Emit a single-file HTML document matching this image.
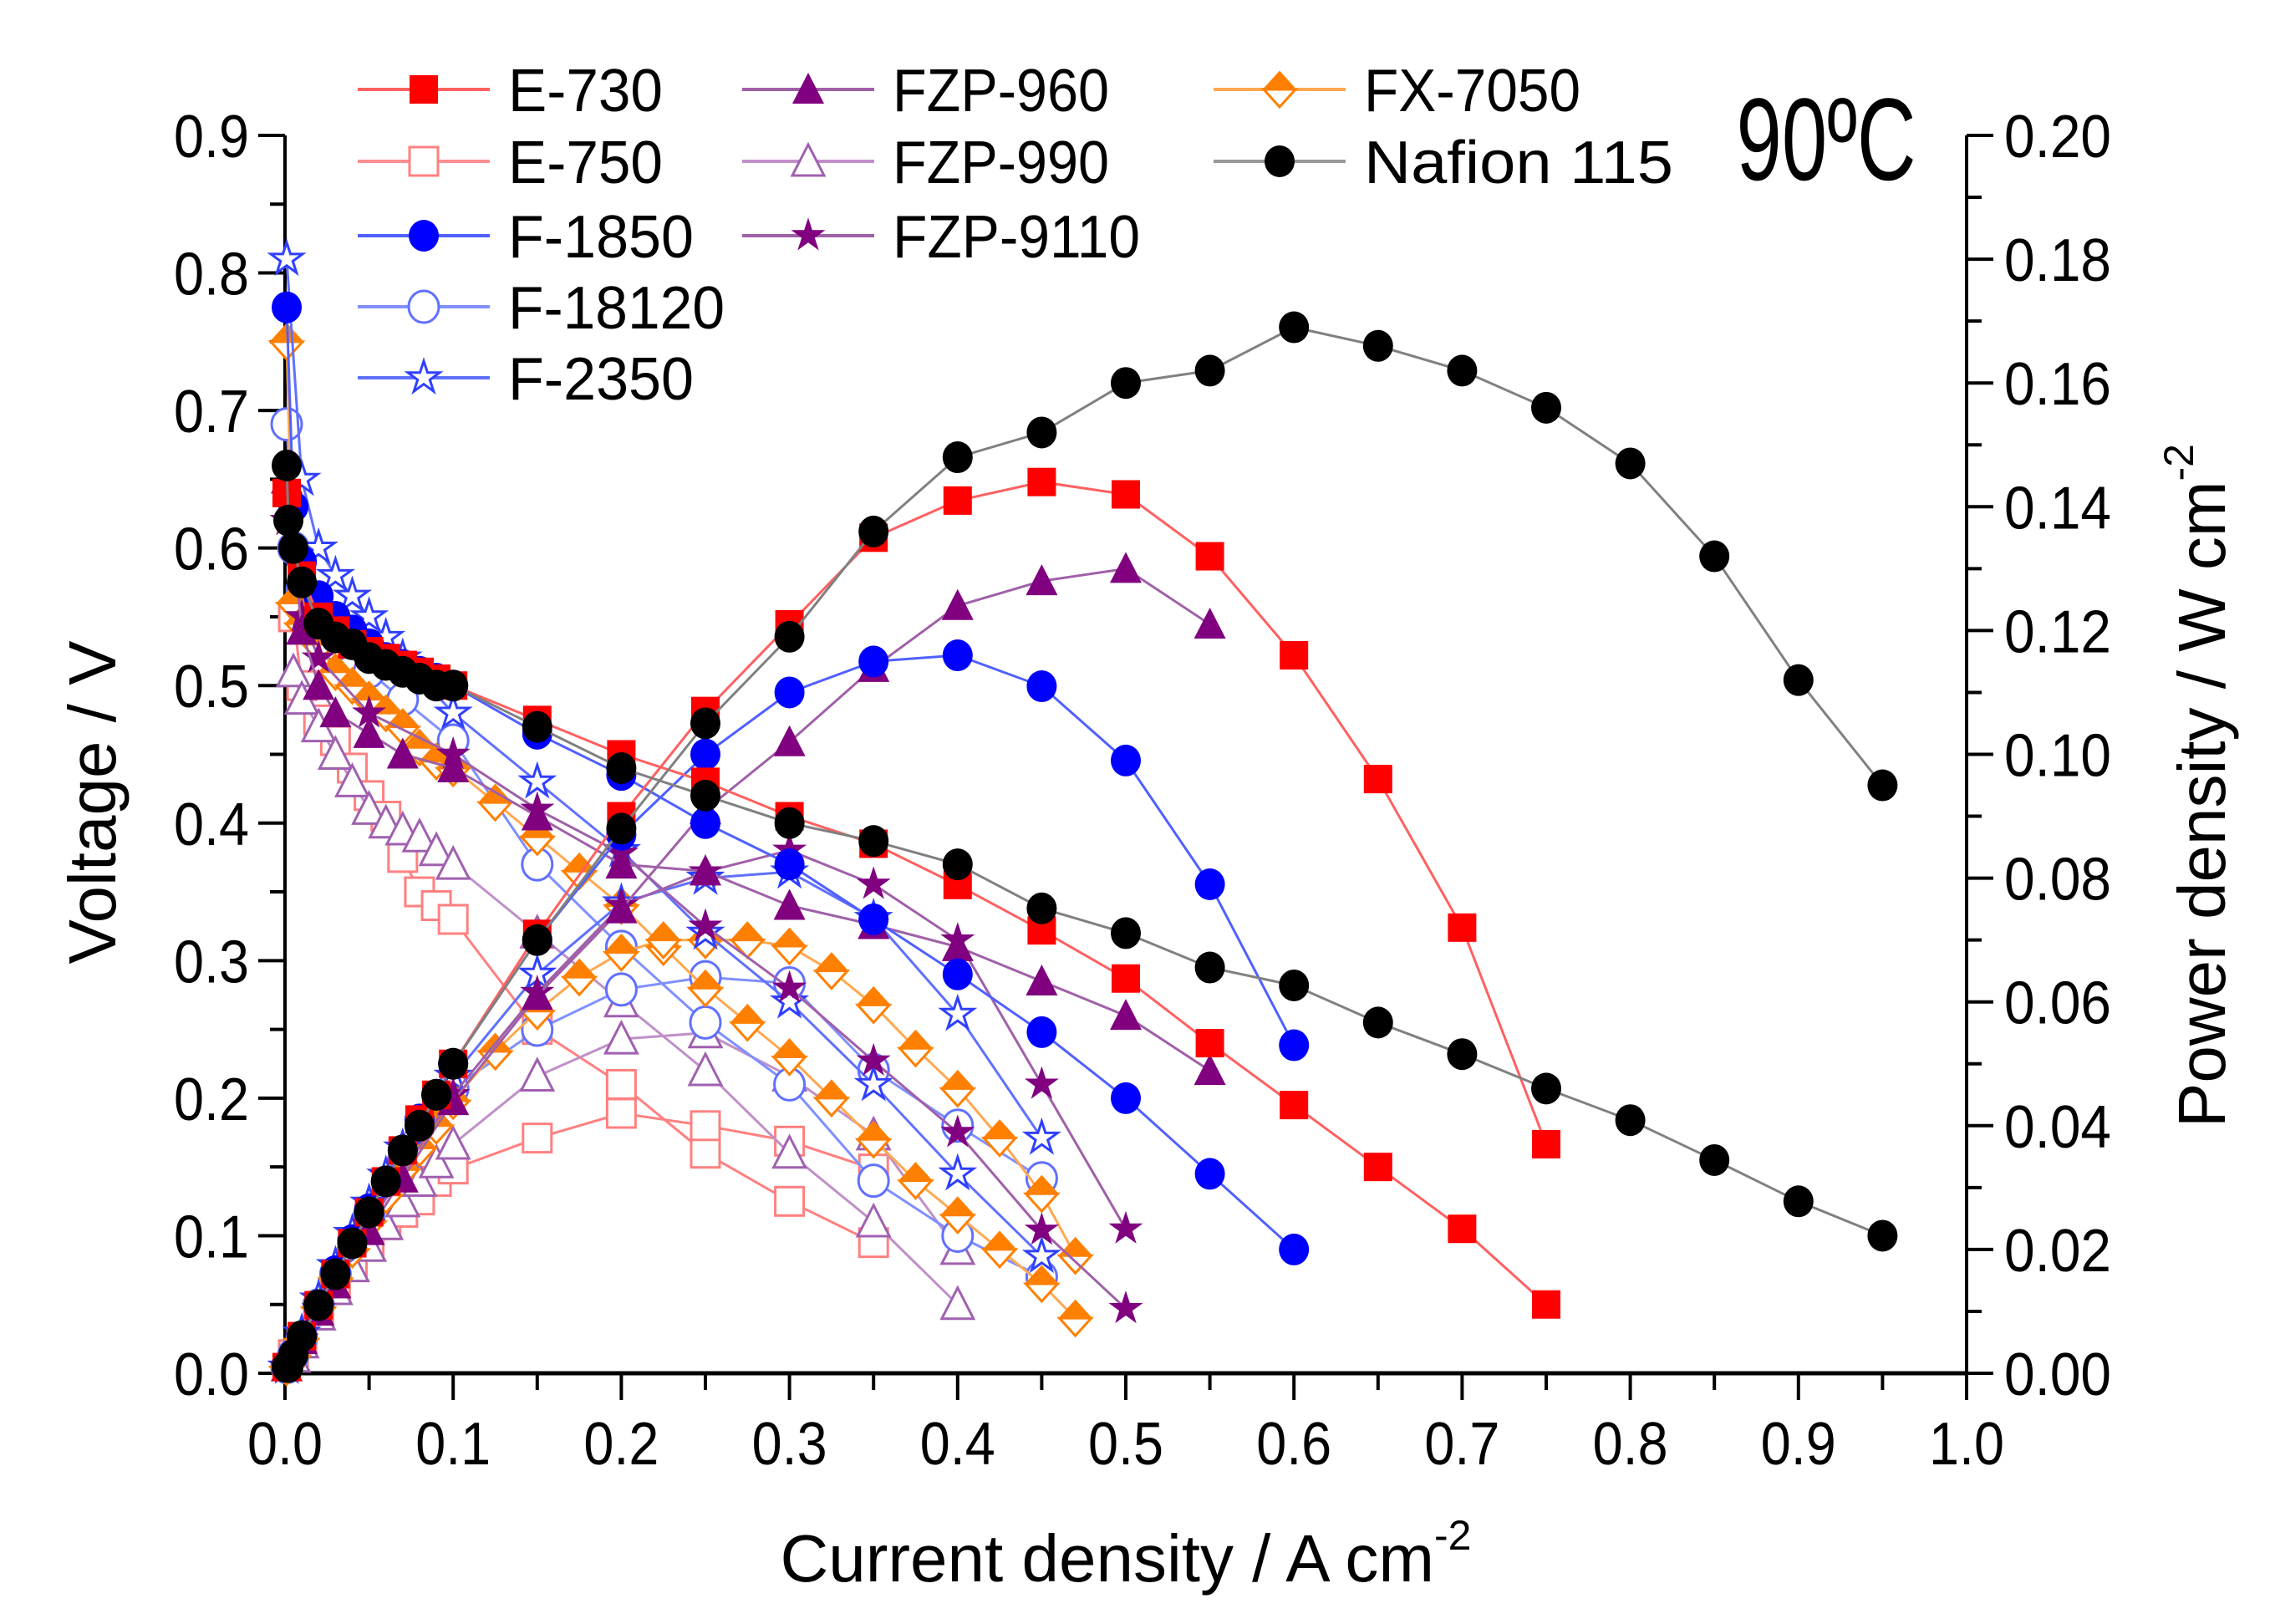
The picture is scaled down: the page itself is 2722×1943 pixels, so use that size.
<!DOCTYPE html>
<html><head><meta charset="utf-8"><style>
html,body{margin:0;padding:0;background:#fff;}
svg{display:block;font-family:"Liberation Sans",Arial,sans-serif;}
</style></head><body>
<svg id="chart" width="2722" height="1943" viewBox="0 0 2722 1943" xmlns="http://www.w3.org/2000/svg">
<g id="axes"></g>
<g id="series"></g>
<g id="legend"></g>
<text x="2185" y="215" font-size="140" text-anchor="middle" textLength="215" lengthAdjust="spacingAndGlyphs">90ºC</text>
<text x="1347" y="1892" font-size="80" text-anchor="middle">Current density / A cm<tspan font-size="50" dy="-38">-2</tspan></text>
<text transform="translate(138,960) rotate(-90)" font-size="80" text-anchor="middle">Voltage / V</text>
<text transform="translate(2662,940) rotate(-90)" font-size="80" text-anchor="middle">Power density / W cm<tspan font-size="50" dy="-38">-2</tspan></text>
</svg>
<script>
const xTicks=[0.0,0.1,0.2,0.3,0.4,0.5,0.6,0.7,0.8,0.9,1.0];
const xTickLabels=["0.0","0.1","0.2","0.3","0.4","0.5","0.6","0.7","0.8","0.9","1.0"];
const vTicks=[0,0.1,0.2,0.3,0.4,0.5,0.6,0.7,0.8,0.9];
const vTickLabels=["0.0","0.1","0.2","0.3","0.4","0.5","0.6","0.7","0.8","0.9"];
const pTicks=[0,0.02,0.04,0.06,0.08,0.10,0.12,0.14,0.16,0.18,0.20];
const pTickLabels=["0.00","0.02","0.04","0.06","0.08","0.10","0.12","0.14","0.16","0.18","0.20"];

const nafI=[0.001,0.002,0.005,0.01,0.02,0.03,0.04,0.05,0.06,0.07,0.08,0.09,0.1,0.15,0.2,0.25,0.3,0.35,0.4,0.45,0.5,0.55,0.6,0.65,0.7,0.75,0.8,0.85,0.9,0.95];
const nafV=[0.66,0.62,0.6,0.575,0.545,0.535,0.53,0.52,0.515,0.51,0.505,0.5,0.5,0.47,0.44,0.42,0.4,0.387,0.37,0.338,0.32,0.295,0.282,0.255,0.232,0.207,0.184,0.155,0.125,0.1];
const nafP=[0.001,0.001,0.003,0.006,0.011,0.016,0.021,0.026,0.031,0.036,0.040,0.045,0.050,0.070,0.088,0.105,0.119,0.136,0.148,0.152,0.160,0.162,0.169,0.166,0.162,0.156,0.147,0.132,0.112,0.095];

const e730I=[0.001,0.01,0.02,0.03,0.04,0.05,0.06,0.07,0.08,0.09,0.1,0.15,0.2,0.25,0.3,0.35,0.4,0.45,0.5,0.55,0.6,0.65,0.7,0.75];
const e730V=[0.64,0.58,0.55,0.54,0.53,0.525,0.52,0.515,0.51,0.505,0.5,0.475,0.45,0.43,0.405,0.385,0.355,0.322,0.287,0.24,0.195,0.15,0.105,0.05];
const e730P=[0.001,0.006,0.011,0.016,0.021,0.026,0.031,0.036,0.041,0.045,0.05,0.071,0.09,0.107,0.121,0.135,0.141,0.144,0.142,0.132,0.116,0.096,0.072,0.037];

const e750I=[0.005,0.01,0.02,0.03,0.04,0.05,0.06,0.07,0.08,0.09,0.1,0.15,0.2,0.25,0.3,0.35];
const e750V=[0.55,0.5,0.475,0.46,0.44,0.42,0.405,0.375,0.35,0.34,0.33,0.25,0.21,0.16,0.125,0.095];
const e750P=[0.003,0.005,0.0095,0.014,0.018,0.021,0.024,0.026,0.028,0.031,0.033,0.038,0.042,0.04,0.0375,0.033];

const f1850I=[0.001,0.005,0.01,0.02,0.03,0.04,0.05,0.06,0.07,0.08,0.09,0.1,0.15,0.2,0.25,0.3,0.35,0.4,0.45,0.5,0.55,0.6];
const f1850V=[0.775,0.63,0.59,0.565,0.55,0.54,0.53,0.52,0.515,0.51,0.505,0.5,0.465,0.435,0.40,0.37,0.33,0.29,0.248,0.2,0.145,0.09];
const f1850P=[0.001,0.003,0.006,0.011,0.0165,0.0215,0.0265,0.031,0.036,0.041,0.045,0.05,0.07,0.087,0.1,0.11,0.115,0.116,0.111,0.099,0.079,0.053];

const f18120I=[0.001,0.005,0.01,0.02,0.03,0.05,0.07,0.1,0.15,0.2,0.25,0.3,0.35,0.4,0.45];
const f18120V=[0.69,0.6,0.57,0.55,0.53,0.51,0.49,0.46,0.37,0.31,0.255,0.21,0.14,0.1,0.07];
const f18120P=[0.001,0.003,0.0057,0.011,0.016,0.0255,0.034,0.046,0.0555,0.062,0.064,0.063,0.049,0.04,0.0315];

const f2350I=[0.001,0.01,0.02,0.03,0.04,0.05,0.06,0.07,0.1,0.15,0.2,0.25,0.3,0.35,0.4,0.45];
const f2350V=[0.81,0.65,0.6,0.58,0.565,0.55,0.535,0.52,0.48,0.43,0.38,0.32,0.27,0.21,0.145,0.085];
const f2350P=[0.001,0.0065,0.012,0.0174,0.0226,0.0275,0.032,0.0364,0.048,0.0645,0.076,0.08,0.081,0.0735,0.058,0.038];

const fzp960I=[0.001,0.01,0.02,0.03,0.05,0.07,0.1,0.15,0.2,0.25,0.3,0.35,0.4,0.45,0.5,0.55];
const fzp960V=[0.65,0.54,0.5,0.48,0.465,0.45,0.44,0.405,0.37,0.365,0.34,0.326,0.31,0.285,0.26,0.22];
const fzp960P=[0.001,0.0054,0.01,0.0144,0.023,0.0315,0.044,0.061,0.075,0.091,0.102,0.114,0.124,0.128,0.13,0.121];

const fzp990I=[0.005,0.01,0.02,0.03,0.04,0.05,0.06,0.07,0.08,0.09,0.1,0.15,0.2,0.25,0.3,0.35,0.4];
const fzp990V=[0.51,0.49,0.47,0.45,0.43,0.41,0.40,0.395,0.39,0.38,0.37,0.32,0.27,0.22,0.16,0.11,0.05];
const fzp990P=[0.0026,0.0049,0.0094,0.0135,0.0172,0.0205,0.024,0.0277,0.031,0.034,0.037,0.048,0.054,0.055,0.048,0.0385,0.02];

const fzp9110I=[0.001,0.01,0.02,0.05,0.1,0.15,0.2,0.25,0.3,0.35,0.4,0.45,0.5];
const fzp9110V=[0.62,0.55,0.52,0.48,0.45,0.41,0.378,0.325,0.28,0.227,0.175,0.104,0.047];
const fzp9110P=[0.001,0.0055,0.0104,0.024,0.045,0.0615,0.0756,0.081,0.0845,0.079,0.07,0.0467,0.0233];

const fx7050I=[0.001,0.005,0.01,0.02,0.03,0.04,0.05,0.06,0.07,0.08,0.09,0.1,0.125,0.15,0.175,0.2,0.225,0.25,0.275,0.3,0.325,0.35,0.375,0.4,0.425,0.45,0.47];
const fx7050V=[0.75,0.56,0.545,0.53,0.51,0.5,0.49,0.48,0.47,0.455,0.445,0.44,0.415,0.39,0.365,0.34,0.31,0.28,0.255,0.23,0.2,0.17,0.14,0.115,0.09,0.065,0.04];
const fx7050P=[0.001,0.0028,0.0055,0.0106,0.0153,0.02,0.0245,0.0288,0.0329,0.0364,0.04,0.044,0.052,0.0585,0.064,0.068,0.07,0.07,0.07,0.069,0.065,0.0595,0.0525,0.046,0.038,0.029,0.019];

const NS="http://www.w3.org/2000/svg";
const X0=341,X1=2353,YB=1643,YT=162;
function xs(v){return X0+(X1-X0)*v;}
function yv(v){return YB-(YB-YT)*v/0.9;}
function yp(v){return YB-(YB-YT)*v/0.2;}
function mk(tag,attrs,parent){const e=document.createElementNS(NS,tag);for(const k in attrs)e.setAttribute(k,attrs[k]);parent.appendChild(e);return e;}

const axes=document.getElementById('axes');
let l=mk('line',{x1:X0,y1:YT,x2:X0,y2:YB+2,stroke:'#000','stroke-width':4},axes);


l=mk('line',{x1:X1,y1:YT,x2:X1,y2:YB+2,stroke:'#000','stroke-width':4},axes);


l=mk('line',{x1:X0-2,y1:YB,x2:X1+2,y2:YB,stroke:'#000','stroke-width':5},axes);


xTicks.forEach((t,i)=>{
  const x=xs(t);
  mk('line',{x1:x,y1:YB,x2:x,y2:YB+32,stroke:'#000','stroke-width':4},axes);
  if(i<xTicks.length-1){const xm=xs(t+0.05);mk('line',{x1:xm,y1:YB,x2:xm,y2:YB+20,stroke:'#000','stroke-width':4},axes);}
  const tx=mk('text',{x:x,y:1752,'font-size':72,'text-anchor':'middle',textLength:90,lengthAdjust:'spacingAndGlyphs'},axes);
  tx.textContent=xTickLabels[i];
  
  
});
vTicks.forEach((t,i)=>{
  const y=yv(t);
  mk('line',{x1:X0-32,y1:y,x2:X0,y2:y,stroke:'#000','stroke-width':4},axes);
  if(i<vTicks.length-1){const ym=yv(t+0.05);mk('line',{x1:X0-18,y1:ym,x2:X0,y2:ym,stroke:'#000','stroke-width':4},axes);}
  const tx=mk('text',{x:298,y:y+26,'font-size':72,'text-anchor':'end',textLength:90,lengthAdjust:'spacingAndGlyphs'},axes);
  tx.textContent=vTickLabels[i];
  
  
});
pTicks.forEach((t,i)=>{
  const y=yp(t);
  mk('line',{x1:X1,y1:y,x2:X1+32,y2:y,stroke:'#000','stroke-width':4},axes);
  if(i<pTicks.length-1){const ym=yp(t+0.01);mk('line',{x1:X1,y1:ym,x2:X1+18,y2:ym,stroke:'#000','stroke-width':4},axes);}
  const tx=mk('text',{x:2398,y:y+26,'font-size':72,'text-anchor':'start',textLength:128,lengthAdjust:'spacingAndGlyphs'},axes);
  tx.textContent=pTickLabels[i];
  
  
});

function marker(g,shape,cx,cy,color,fill){
  const s=17;
  if(shape==='square'){
    mk('rect',{x:cx-s,y:cy-s,width:2*s,height:2*s,fill:fill?color:'#fff',stroke:color,'stroke-width':fill?0:3},g);
  }else if(shape==='circle'){
    mk('ellipse',{cx:cx,cy:cy,rx:s+1,ry:s+2,fill:fill?color:'#fff',stroke:color,'stroke-width':fill?0:3},g);
  }else if(shape==='triangle'){
    mk('polygon',{points:`${cx},${cy-s-3} ${cx+s+2},${cy+s} ${cx-s-2},${cy+s}`,fill:fill?color:'#fff',stroke:color,'stroke-width':fill?0:3},g);
  }else if(shape==='star'){
    let p=[];for(let k=0;k<10;k++){const r=k%2?s*0.45:s+3;const a=-Math.PI/2+k*Math.PI/5;p.push((cx+r*Math.cos(a)).toFixed(1)+','+(cy+r*Math.sin(a)).toFixed(1));}
    mk('polygon',{points:p.join(' '),fill:fill?color:'#fff',stroke:color,'stroke-width':fill?1:3},g);
  }else if(shape==='diamond'){
    mk('polygon',{points:`${cx},${cy+s+4} ${cx+s+2},${cy} ${cx-s-2},${cy}`,fill:'#fff',stroke:color,'stroke-width':3},g);
    mk('polygon',{points:`${cx},${cy-s-4} ${cx+s+2},${cy} ${cx-s-2},${cy}`,fill:color,stroke:color,'stroke-width':2},g);
  }
}

const seriesG=document.getElementById('series');
function drawSeries(name,I,V,P,shape,color,lineColor,fill){
  const g=mk('g',{},seriesG);
  
  
  [[V,yv,'voltage'],[P,yp,'power']].forEach(([arr,fy,kind])=>{
    const pts=I.map((x,i)=>xs(x).toFixed(1)+','+fy(arr[i]).toFixed(1)).join(' ');
    const pl=mk('polyline',{points:pts,fill:'none',stroke:lineColor,'stroke-width':3},g);
    
    
  });
  [[V,yv],[P,yp]].forEach(([arr,fy])=>{
    I.forEach((x,i)=>marker(g,shape,xs(x),fy(arr[i]),color,fill));
  });
}
drawSeries('e-750',e750I,e750V,e750P,'square','#ff8080','#ff8080',false);
drawSeries('fzp-990',fzp990I,fzp990V,fzp990P,'triangle','#a060b0','#c090c8',false);
drawSeries('f-18120',f18120I,f18120V,f18120P,'circle','#6070ff','#8090ff',false);
drawSeries('fx-7050',fx7050I,fx7050V,fx7050P,'diamond','#ff8000','#ffa850',true);
drawSeries('f-2350',f2350I,f2350V,f2350P,'star','#3040ff','#6070ff',false);
drawSeries('fzp-9110',fzp9110I,fzp9110V,fzp9110P,'star','#800080','#a060a8',true);
drawSeries('fzp-960',fzp960I,fzp960V,fzp960P,'triangle','#800080','#a060a8',true);
drawSeries('f-1850',f1850I,f1850V,f1850P,'circle','#0000ff','#5060ff',true);
drawSeries('e-730',e730I,e730V,e730P,'square','#ff0000','#ff6060',true);
drawSeries('nafion-115',nafI,nafV,nafP,'circle','#000000','#808080',true);

const legend=document.getElementById('legend');
const legendNames=["E-730","E-750","F-1850","F-18120","F-2350","FZP-960","FZP-990","FZP-9110","FX-7050","Nafion 115"];
const legendStyle=[['square','#ff0000','#ff6060',true],['square','#ff8080','#ff9090',false],['circle','#0000ff','#5060ff',true],['circle','#6070ff','#8090ff',false],['star','#3040ff','#6070ff',false],['triangle','#800080','#a060a8',true],['triangle','#a060b0','#c090c8',false],['star','#800080','#a060a8',true],['diamond','#ff8000','#ffa850',true],['circle','#000','#999',true]];
const legCols=[428,888,1452],legRowY=[107,193,282,367,452];
const legendCol=[0,0,0,0,0,1,1,1,2,2],legendRow=[0,1,2,3,4,0,1,2,0,1];
legendNames.forEach((n,i)=>{
  const g=mk('g',{},legend);
  
  
  const x=legCols[legendCol[i]],y=legRowY[legendRow[i]];
  const st=legendStyle[i];
  mk('line',{x1:x,y1:y,x2:x+158,y2:y,stroke:st[2],'stroke-width':4},g);
  marker(g,st[0],x+79,y,st[1],st[3]);
  const t=mk('text',{x:x+180,y:y+26,'font-size':72,textLength:n.length*37,lengthAdjust:'spacingAndGlyphs'},g);
  t.textContent=n;
});
</script>
</body></html>
